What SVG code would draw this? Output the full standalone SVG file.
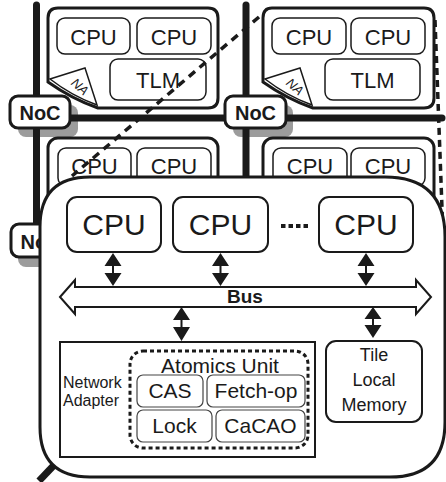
<svg xmlns="http://www.w3.org/2000/svg" width="446" height="482" viewBox="0 0 446 482">
<style>
text{font-family:"Liberation Sans",Arial,sans-serif;fill:#1a1a1a}
.tile{fill:#fff;stroke:#1a1a1a;stroke-width:3}
.box{fill:#fff;stroke:#1a1a1a;stroke-width:1.5}
.flap{fill:#fff;stroke:#1a1a1a;stroke-width:1.5}
.grid{stroke:#1a1a1a;stroke-width:7;stroke-linecap:round;fill:none}
.noc{fill:#fff;stroke:#1a1a1a;stroke-width:3}
.shadow{fill:#9c9c9c}
.t22{font-size:22px;text-anchor:middle}
.nt{font-size:20px;font-weight:bold;text-anchor:middle}
.na{font-size:13px;font-style:italic;text-anchor:middle}
.dash{stroke:#1a1a1a;stroke-width:3.5;fill:none}
.big{fill:#fff;stroke:#1a1a1a;stroke-width:3}
.cpu{fill:#fff;stroke:#1a1a1a;stroke-width:2}
.t30{font-size:30px;text-anchor:middle}
.arr{fill:#1a1a1a}
.sub{fill:#fff;stroke:#444;stroke-width:1.2}
.t21{font-size:21px;text-anchor:middle}
</style>
<g id="shadows">
<rect class="shadow" x="18" y="105" width="60" height="32" rx="8"/>
<rect class="shadow" x="233" y="105" width="60" height="32" rx="8"/>
<rect class="shadow" x="18" y="235" width="60" height="32" rx="8"/>
</g>
<g id="noc-links">
<line class="grid" x1="36.5" y1="5" x2="36.5" y2="226"/>
<line class="grid" x1="246" y1="5" x2="246" y2="180"/>
<line class="grid" x1="70" y1="118" x2="442" y2="118"/>
</g>
<g id="tile-top-left">
<path class="tile" d="M58,8 H208 Q218,8 218,18 V98 Q218,108 208,108 H98 Q72,99 48,82 V18 Q48,8 58,8 Z"/>
<path class="flap" d="M50,79 L85,68 L97,105 Q72,96 50,79 Z"/>
<text class="na" transform="translate(77,90) rotate(42)">NA</text>
<rect class="box" x="57" y="18" width="73" height="36" rx="8"/>
<text class="t22" x="93.5" y="45">CPU</text>
<rect class="box" x="137" y="18" width="74" height="36" rx="8"/>
<text class="t22" x="174" y="45">CPU</text>
<rect class="box" x="110" y="59" width="96" height="41" rx="8"/>
<text class="t22" x="158" y="88">TLM</text>
</g>
<g id="tile-top-right">
<path class="tile" d="M272,8 H424 Q434,8 434,18 V98 Q434,108 424,108 H313 Q287,99 263,82 V18 Q263,8 272,8 Z"/>
<path class="flap" d="M265,79 L300,68 L312,105 Q287,96 265,79 Z"/>
<text class="na" transform="translate(292,90) rotate(42)">NA</text>
<rect class="box" x="272" y="18" width="74" height="36" rx="8"/>
<text class="t22" x="309" y="45">CPU</text>
<rect class="box" x="351" y="18" width="74" height="36" rx="8"/>
<text class="t22" x="388" y="45">CPU</text>
<rect class="box" x="325" y="59" width="95" height="41" rx="8"/>
<text class="t22" x="372.5" y="88">TLM</text>
</g>
<g id="tile-bottom-left">
<rect class="tile" x="48" y="138" width="170" height="100" rx="10"/>
<rect class="box" x="58" y="148" width="73" height="38" rx="8"/>
<text class="t22" x="94.5" y="174">CPU</text>
<rect class="box" x="137" y="148" width="74" height="38" rx="8"/>
<text class="t22" x="174" y="174">CPU</text>
</g>
<g id="tile-bottom-right">
<rect class="tile" x="263" y="138" width="171" height="100" rx="10"/>
<rect class="box" x="273" y="148" width="74" height="38" rx="8"/>
<text class="t22" x="310" y="174">CPU</text>
<rect class="box" x="351" y="148" width="74" height="38" rx="8"/>
<text class="t22" x="388" y="174">CPU</text>
</g>
<g id="noc-top-left">
<rect class="noc" x="10" y="96" width="60" height="32" rx="8"/>
<text class="nt" x="40" y="120">NoC</text>
</g>
<g id="noc-top-right">
<rect class="noc" x="225" y="96" width="61" height="32" rx="8"/>
<text class="nt" x="255.5" y="120">NoC</text>
</g>
<g id="noc-bottom-left">
<rect class="noc" x="11" y="224" width="60" height="33" rx="8"/>
<text class="nt" x="41" y="249">NoC</text>
</g>
<g id="connectors">
<line class="dash" x1="259" y1="17" x2="72" y2="176" stroke-dasharray="8 6"/>
<line class="dash" x1="435" y1="20" x2="443" y2="235" stroke-dasharray="7 5"/>
<line x1="39" y1="481" x2="57" y2="462" stroke="#1a1a1a" stroke-width="7"/>
</g>
<g id="tile-detail">
<path class="big" d="M90,177 H385 Q445,177 445,237 V422 Q445,477 390,477 H90 Q40,477 40,427 V227 Q40,177 90,177 Z"/>
<g id="cpu1"><rect class="cpu" x="67" y="197" width="94" height="55" rx="10"/><text class="t30" x="114" y="235">CPU</text></g>
<g id="cpu2"><rect class="cpu" x="173" y="197" width="95" height="55" rx="10"/><text class="t30" x="220.5" y="235">CPU</text></g>
<g id="cpu3"><rect class="cpu" x="319" y="197" width="94" height="55" rx="10"/><text class="t30" x="366" y="235">CPU</text></g>
<line x1="281" y1="226" x2="311" y2="226" stroke="#1a1a1a" stroke-width="4" stroke-dasharray="4.5 3"/>
<g id="bus">
<path d="M60,297 L75,280 V287 H416 V280 L431,297 L416,314 V307 H75 V314 Z" fill="#fff" stroke="#1a1a1a" stroke-width="2"/>
<text x="245" y="303" font-size="19" font-weight="bold" text-anchor="middle">Bus</text>
</g>
<g id="bus-arrows">
<path class="arr" d="M113,253 L121.5,266 H104.5 Z M112,266 H114 V273 H112 Z M104.5,273 H121.5 L113,286 Z"/>
<path class="arr" d="M220.5,253 L229,266 H212 Z M219.5,266 H221.5 V273 H219.5 Z M212,273 H229 L220.5,286 Z"/>
<path class="arr" d="M366,253 L374.5,266 H357.5 Z M365,266 H367 V273 H365 Z M357.5,273 H374.5 L366,286 Z"/>
<path class="arr" d="M181.5,307 L190,320 H173 Z M180.5,320 H182.5 V327 H180.5 Z M173,327 H190 L181.5,341 Z"/>
<path class="arr" d="M373,307 L381.5,319 H364.5 Z M372,319 H374 V325 H372 Z M364.5,325 H381.5 L373,338 Z"/>
</g>
<g id="network-adapter">
<rect x="60" y="342" width="255" height="115" fill="#fff" stroke="#1a1a1a" stroke-width="2"/>
<text x="63" y="388" font-size="16">Network</text>
<text x="63" y="406" font-size="16">Adapter</text>
</g>
<g id="atomics-unit">
<rect x="130" y="351" width="178" height="97" rx="13" fill="none" stroke="#1a1a1a" stroke-width="3" stroke-dasharray="4 3"/>
<text class="t21" x="220" y="373">Atomics Unit</text>
<g id="cas"><rect class="sub" x="137" y="375" width="66" height="32" rx="6"/><text class="t21" x="170" y="398">CAS</text></g>
<g id="fetch-op"><rect class="sub" x="207" y="375" width="98" height="32" rx="6"/><text class="t21" x="256" y="398">Fetch-op</text></g>
<g id="lock"><rect class="sub" x="137" y="410" width="75" height="32" rx="6"/><text class="t21" x="174.5" y="433">Lock</text></g>
<g id="cacao"><rect class="sub" x="216" y="410" width="89" height="32" rx="6"/><text class="t21" x="260.5" y="433">CaCAO</text></g>
</g>
<g id="tile-local-memory">
<rect class="cpu" x="326" y="341" width="96" height="81" rx="10"/>
<text x="374" y="361" font-size="18" text-anchor="middle">Tile</text>
<text x="374" y="386" font-size="18" text-anchor="middle">Local</text>
<text x="374" y="411" font-size="18" text-anchor="middle">Memory</text>
</g>
</g>
</svg>
